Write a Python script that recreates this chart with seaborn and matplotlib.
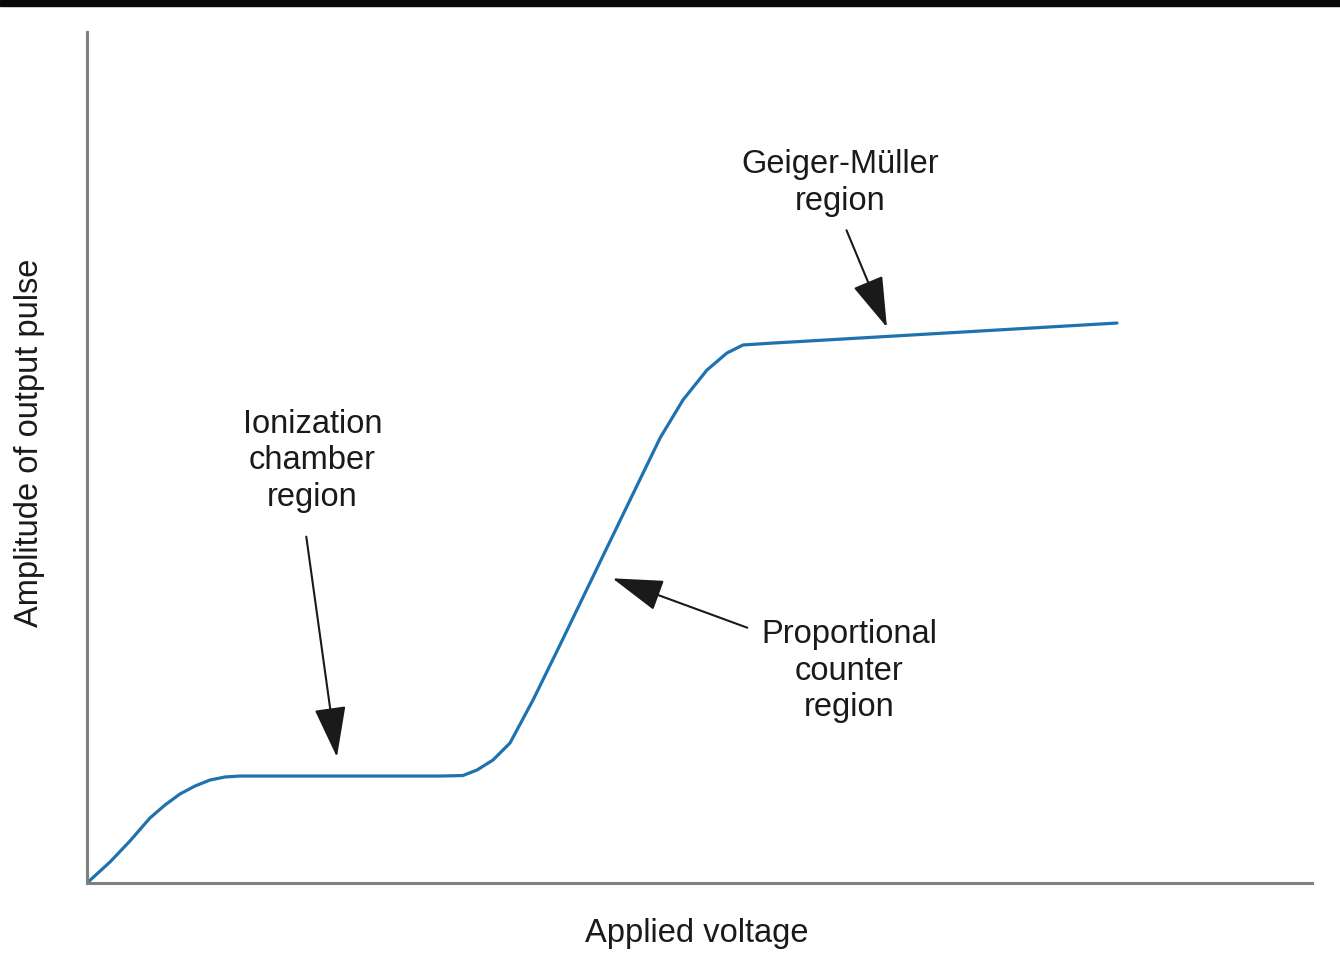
import numpy as np
import pandas as pd
import matplotlib
matplotlib.use("Agg")
import matplotlib.pyplot as plt
import matplotlib.patches as mpatches
import seaborn as sns

# curve (unitless voltage / amplitude, 0-100)
voltage = [0.0, 1.88, 3.51, 5.14, 6.37, 7.59, 8.82, 10.04, 11.27, 12.49,
           28.82, 30.69, 31.84, 33.14, 34.53, 36.41, 38.61, 41.88, 44.33,
           46.78, 48.65, 50.61, 52.24, 53.55, 56.00, 58.20, 84.08]
amplitude = [0.0, 2.47, 4.94, 7.64, 9.17, 10.46, 11.40, 12.10, 12.46, 12.57,
             12.57, 12.63, 13.28, 14.45, 16.45, 21.50, 27.97, 37.72, 45.01,
             52.29, 56.76, 60.28, 62.28, 63.22, 63.45, 63.63, 65.80]

# region labels: text, text centre, arrow start, arrow tip
labels = ["Ionization\nchamber\nregion", "Geiger-Müller\nregion",
          "Proportional\ncounter\nregion"]
label_pos = [(18.4, 49.6), (61.5, 82.3), (62.2, 24.9)]
arrow_from = [(17.9, 40.7), (62.0, 76.7), (53.9, 30.0)]
arrow_to = [(20.4, 14.8), (65.3, 65.3), (42.9, 35.8)]

df = pd.DataFrame({"voltage": voltage, "amplitude": amplitude})

sns.set_theme(style="white")
plt.rcParams['font.family'] = ['Liberation Sans', 'DejaVu Sans']

fig = plt.figure(figsize=(13.4, 9.63), dpi=100)
ax = fig.add_axes([87 / 1340, 80 / 963, 1225 / 1340, 851 / 963])

sns.lineplot(data=df, x="voltage", y="amplitude", sort=False, estimator=None,
             color="#1f72b0", lw=2.3, ax=ax)
ax.lines[0].set_solid_joinstyle("round")

for txt, pos, a0, a1 in zip(labels, label_pos, arrow_from, arrow_to):
    ax.text(pos[0], pos[1], txt, ha="center", va="center", fontsize=23.5,
            linespacing=1.24, color="#1a1a1a")
    ax.annotate("", xy=a1, xytext=a0,
                arrowprops=dict(arrowstyle="-|>,head_length=1.6,head_width=0.5",
                                mutation_scale=20, lw=1.5, color="#1a1a1a",
                                shrinkA=0, shrinkB=0))

ax.set_xlim(0, 100)
ax.set_ylim(0, 100)
ax.set_xticks([])
ax.set_yticks([])
ax.set_xlabel("Applied voltage", fontsize=23.5, color="#1a1a1a")
ax.set_ylabel("Amplitude of output pulse", fontsize=23.5, color="#1a1a1a")
ax.yaxis.set_label_coords(-0.034, 0.517)
ax.xaxis.set_label_coords(0.498, -0.041)
for s in ["top", "right"]:
    ax.spines[s].set_visible(False)
for s in ["left", "bottom"]:
    ax.spines[s].set_color("#808080")
    ax.spines[s].set_linewidth(2.2)

# black strip along the top edge
fig.patches.append(mpatches.Rectangle((0, 1 - 6 / 963), 1, 6 / 963,
                                      transform=fig.transFigure,
                                      color="#0a0a0a", zorder=5))

plt.savefig("out.png", dpi=100)
